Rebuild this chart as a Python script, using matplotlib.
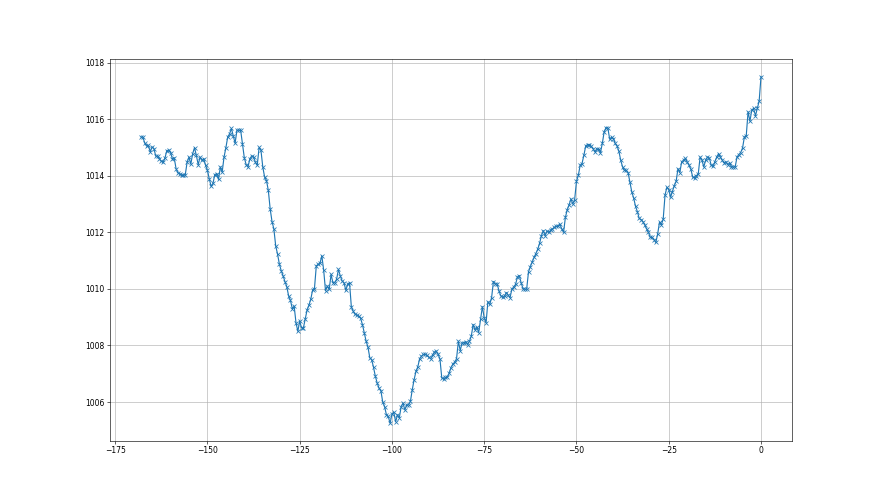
import numpy as np
import matplotlib
matplotlib.use("Agg")
import matplotlib.pyplot as plt

# half-hourly pressure readings (hPa), oldest first, last 168 hours
pressure_a = [1015.37, 1015.37, 1015.16, 1015.05, 1015.07, 1014.84, 1015.02, 1014.96, 1014.69, 1014.70,
              1014.60, 1014.51, 1014.48, 1014.63, 1014.89, 1014.90, 1014.82, 1014.60, 1014.63, 1014.25,
              1014.10, 1014.07, 1014.01, 1014.01, 1014.04, 1014.48, 1014.66, 1014.41, 1014.78, 1014.99,
              1014.72, 1014.39, 1014.66, 1014.54, 1014.60, 1014.37, 1014.19, 1013.89, 1013.62, 1013.73,
              1014.04, 1014.07, 1013.87, 1014.31, 1014.13, 1014.66, 1014.99, 1015.37, 1015.48, 1015.67,
              1015.41, 1015.15]
pressure_b = [1015.61, 1015.61, 1015.61, 1015.13, 1014.63, 1014.39, 1014.31, 1014.60, 1014.70, 1014.66,
              1014.48, 1014.37, 1015.00, 1014.90, 1014.31, 1013.95, 1013.83, 1013.48, 1012.83, 1012.38,
              1012.12, 1011.52, 1011.23, 1010.87, 1010.64, 1010.46, 1010.26, 1010.08, 1009.75, 1009.59,
              1009.30, 1009.39, 1008.80, 1008.50, 1008.86, 1008.62, 1008.62, 1008.94, 1009.25, 1009.42,
              1009.63, 1009.96, 1010.01, 1010.81]
pressure_c = [1010.87, 1010.91, 1011.17, 1010.66, 1009.93, 1010.10, 1009.98, 1010.51, 1010.22, 1010.22,
              1010.34, 1010.69, 1010.46, 1010.28, 1010.22, 1009.95, 1010.16, 1010.22, 1009.36, 1009.21,
              1009.10, 1009.07, 1009.03, 1008.96, 1008.74, 1008.45, 1008.15, 1007.94, 1007.56, 1007.50,
              1007.23, 1006.91, 1006.67, 1006.49, 1006.40, 1006.00, 1005.84, 1005.55, 1005.49, 1005.25,
              1005.57, 1005.64, 1005.30, 1005.55]
pressure_d = [1005.45, 1005.84, 1005.96, 1005.72, 1005.90, 1005.90, 1006.02, 1006.43, 1006.79, 1007.08,
              1007.24, 1007.53, 1007.62, 1007.68, 1007.68, 1007.65, 1007.58, 1007.53, 1007.65, 1007.77,
              1007.79, 1007.68, 1007.53, 1006.85, 1006.82, 1006.87, 1006.87, 1007.02, 1007.22, 1007.34,
              1007.41, 1007.53, 1008.15, 1007.82, 1008.09, 1008.09, 1008.13, 1008.03, 1008.15, 1008.33,
              1008.74, 1008.55]
pressure_e = [1008.65, 1008.45, 1008.92, 1009.37, 1008.98, 1008.80, 1009.55, 1009.45, 1009.69, 1010.26,
              1010.17, 1010.18, 1009.93, 1009.75, 1009.70, 1009.75, 1009.87, 1009.78, 1009.69, 1009.99,
              1010.07, 1010.16, 1010.42, 1010.47, 1010.22, 1010.01, 1009.99, 1009.99, 1010.60, 1010.79,
              1010.95, 1011.11, 1011.25, 1011.40, 1011.61, 1011.88, 1012.06, 1011.88, 1012.04, 1012.00,
              1012.07, 1012.12, 1012.18, 1012.21]
pressure_f = [1012.21, 1012.29, 1012.12, 1012.00, 1012.53, 1012.80, 1012.97, 1013.18, 1013.00, 1013.15,
              1013.80, 1014.01, 1014.37, 1014.43, 1014.72, 1015.05, 1015.10, 1015.10, 1015.04, 1014.96,
              1014.84, 1014.96, 1014.93, 1014.82, 1015.14, 1015.55, 1015.70, 1015.69, 1015.29, 1015.37,
              1015.31, 1015.14, 1015.05, 1014.86, 1014.54, 1014.31, 1014.19, 1014.19, 1014.10, 1013.77,
              1013.42, 1013.21, 1012.92, 1012.73, 1012.49]
pressure_g = [1012.45, 1012.38, 1012.26, 1012.12, 1012.00, 1011.82, 1011.82, 1011.74, 1011.64, 1011.94,
              1012.36, 1012.26, 1012.47, 1013.32, 1013.59, 1013.51, 1013.24, 1013.44, 1013.65, 1013.80,
              1014.25, 1014.11, 1014.49, 1014.55, 1014.61, 1014.49, 1014.37, 1014.23, 1013.95, 1013.92,
              1014.00, 1014.07, 1014.66, 1014.55, 1014.31, 1014.55, 1014.66, 1014.63, 1014.37, 1014.33,
              1014.49, 1014.66, 1014.78, 1014.66, 1014.55, 1014.46, 1014.49, 1014.39, 1014.46, 1014.31,
              1014.31, 1014.31, 1014.66, 1014.75, 1014.82, 1014.98, 1015.37, 1015.41, 1016.26, 1015.93,
              1016.32, 1016.38, 1016.12, 1016.38, 1016.64, 1017.50]

pressure = pressure_a + pressure_b + pressure_c + pressure_d + pressure_e + pressure_f + pressure_g
hours = np.arange(-168, 0.5, 0.5)

fig, ax = plt.subplots(figsize=(16, 9), dpi=55)
ax.plot(hours, pressure, marker='x')
ax.grid(True)

plt.savefig("out.png", dpi=55)
